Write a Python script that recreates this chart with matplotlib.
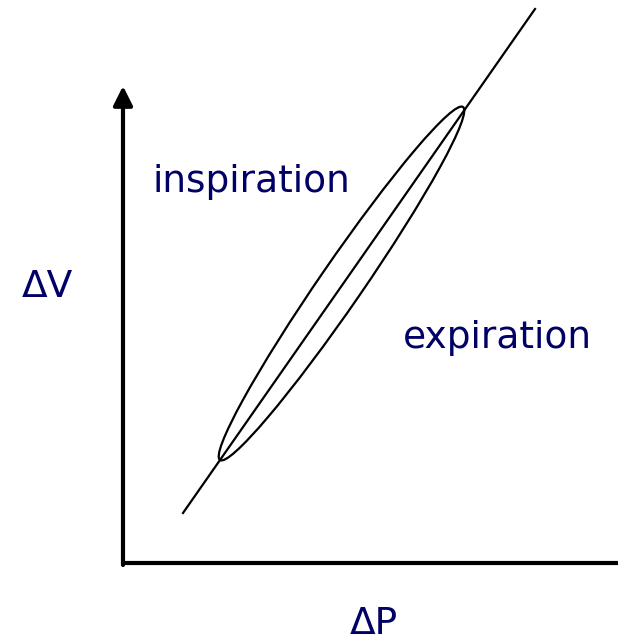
import matplotlib
matplotlib.use('Agg')
import matplotlib.pyplot as plt
from matplotlib.patches import Ellipse
import numpy as np

# Data (schematic units, origin at the axes corner)
line_x = [0.60, 4.12]          # compliance line, delta P
line_y = [0.50, 5.54]          # compliance line, delta V
loop_tip_x = [0.97, 3.40]      # ends of the hysteresis loop
loop_tip_y = [1.03, 4.56]
loop_width = 0.43              # width of the loop across the line
labels = ['inspiration', 'expiration']

W, H = 618, 641
navy = '#000066'

fig = plt.figure(figsize=(W / 100, H / 100), dpi=100)
ox, oy = 123, 563  # axes origin in pixels
ax = fig.add_axes([ox / W, (H - oy) / H, (W - ox) / W, (oy - 86) / H])
ax.set_xlim(0, (W - ox) / 100)
ax.set_ylim(0, (oy - 86) / 100)
ax.set_axis_off()

# axes: horizontal line and vertical arrow
ax.plot([0, (W - ox) / 100], [0, 0], color='black', lw=3, solid_capstyle='butt', clip_on=False)
ax.annotate('', xy=(0, (oy - 86) / 100), xytext=(0, -0.02),
            arrowprops=dict(arrowstyle='-|>', lw=3, color='black',
                            mutation_scale=29, shrinkA=0, shrinkB=0))

# compliance line
ax.plot(line_x, line_y, color='black', lw=1.6, clip_on=False)

# hysteresis loop
cx, cy = np.mean(loop_tip_x), np.mean(loop_tip_y)
dx = loop_tip_x[1] - loop_tip_x[0]
dy = loop_tip_y[1] - loop_tip_y[0]
ax.add_patch(Ellipse((cx, cy), width=np.hypot(dx, dy), height=loop_width,
                     angle=np.degrees(np.arctan2(dy, dx)),
                     fill=False, edgecolor='black', lw=1.6, clip_on=False))

# labels
fig.text(153 / W, 1 - 192 / H, labels[0], color=navy, fontsize=27, ha='left', va='baseline')
fig.text(403 / W, 1 - 348 / H, labels[1], color=navy, fontsize=27, ha='left', va='baseline')
fig.text(22 / W, 1 - 297 / H, '\u0394V', color=navy, fontsize=27, ha='left', va='baseline')
fig.text(350 / W, 1 - 634 / H, '\u0394P', color=navy, fontsize=27, ha='left', va='baseline')

plt.savefig('out.png', dpi=100)
